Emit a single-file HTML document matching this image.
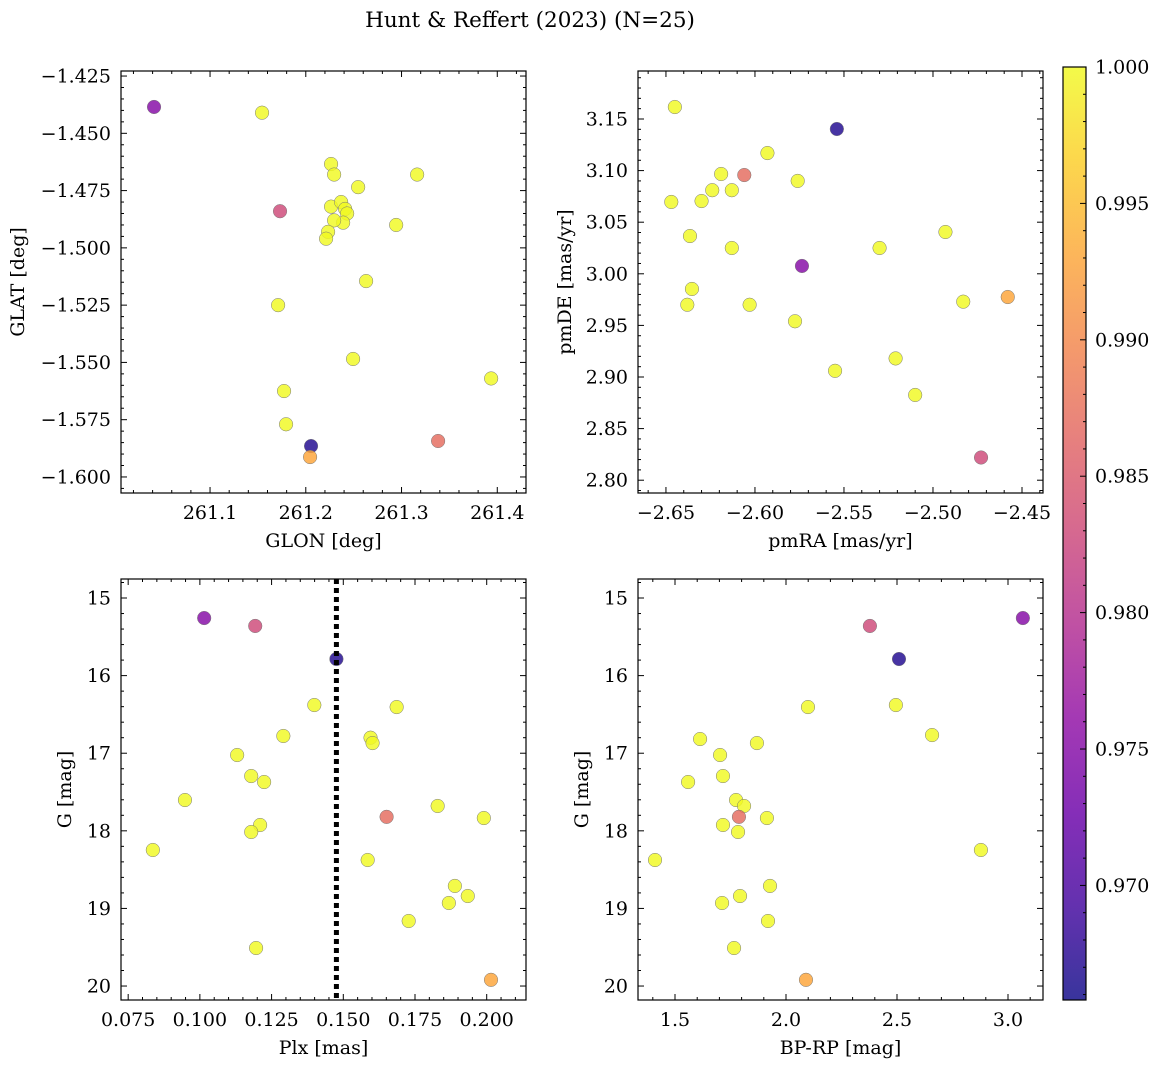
<!DOCTYPE html>
<html><head><meta charset="utf-8"><style>
body{margin:0;background:#fff;}
svg text{font-family:"DejaVu Serif","Liberation Serif",serif;fill:#000;}
</style></head><body>
<svg id="fig" width="1161" height="1067" xmlns="http://www.w3.org/2000/svg">
<defs><linearGradient id="plasma" x1="0" y1="1" x2="0" y2="0">
<stop offset="0" stop-color="#0d0887"/><stop offset="0.1" stop-color="#41049d"/><stop offset="0.2" stop-color="#6a00a8"/><stop offset="0.3" stop-color="#8f0da4"/><stop offset="0.4" stop-color="#b12a90"/><stop offset="0.5" stop-color="#cc4778"/><stop offset="0.6" stop-color="#e16462"/><stop offset="0.7" stop-color="#f2844b"/><stop offset="0.8" stop-color="#fca636"/><stop offset="0.9" stop-color="#fcce25"/><stop offset="1" stop-color="#f0f921"/>
</linearGradient></defs>
<text x="530" y="27" font-size="21.5" text-anchor="middle">Hunt &amp; Reffert (2023) (N=25)</text>
</svg>
<script>
// Data
const glon=[261.0415,261.1543,261.1731,261.2264,261.2296,261.2547,261.3163,261.2264,261.2369,261.2411,261.2432,261.2390,261.2296,261.2233,261.2212,261.2944,261.2630,261.1711,261.2494,261.3936,261.1773,261.1794,261.2055,261.2045,261.3382];
const glat=[-1.4385,-1.441,-1.484,-1.4634,-1.468,-1.4735,-1.468,-1.482,-1.480,-1.483,-1.485,-1.489,-1.488,-1.493,-1.496,-1.490,-1.5145,-1.525,-1.5485,-1.557,-1.5625,-1.577,-1.5865,-1.5913,-1.5843];
const probTL=[0.975,1,0.983,1,1,1,1,1,1,1,1,1,1,1,1,1,1,1,1,1,1,1,0.967,0.993,0.987];
const pmra=[-2.645,-2.647,-2.630,-2.624,-2.619,-2.606,-2.593,-2.613,-2.576,-2.554,-2.6365,-2.613,-2.5736,-2.6354,-2.638,-2.603,-2.5775,-2.530,-2.493,-2.483,-2.458,-2.521,-2.555,-2.510,-2.473];
const pmde=[3.1616,3.0696,3.0705,3.081,3.0967,3.0957,3.117,3.081,3.090,3.1403,3.0366,3.025,3.0076,2.9853,2.970,2.970,2.954,3.025,3.0405,2.973,2.9775,2.918,2.906,2.8826,2.822];
const probTR=[1,1,1,1,1,0.987,1,1,1,0.967,1,1,0.975,1,1,1,1,1,1,1,0.993,1,1,1,0.983];
const plx=[0.1015,0.1193,0.1476,0.1399,0.1686,0.1291,0.1595,0.1602,0.1130,0.1179,0.1224,0.0948,0.1829,0.1651,0.1990,0.1210,0.1179,0.0836,0.1585,0.1889,0.1934,0.1868,0.1728,0.1196,0.2015];
const gmag=[15.258,15.36,15.786,16.379,16.405,16.778,16.80,16.869,17.023,17.294,17.371,17.603,17.68,17.82,17.835,17.925,18.015,18.247,18.376,18.71,18.84,18.93,19.162,19.51,19.92];
const probBL=[0.975,0.983,0.967,1,1,1,1,1,1,1,1,1,1,0.987,1,1,1,1,1,1,1,1,1,1,0.993];
const bprp=[3.067,2.378,2.509,2.495,2.099,2.658,1.613,1.869,1.703,1.716,1.559,1.775,1.811,1.788,1.914,1.716,1.784,2.878,1.41,1.928,1.793,1.712,1.919,1.766,2.09];
const gmag2=[15.258,15.36,15.786,16.379,16.405,16.766,16.817,16.869,17.023,17.294,17.371,17.603,17.68,17.82,17.835,17.925,18.015,18.247,18.376,18.71,18.84,18.93,19.162,19.51,19.92];
const probBR=probBL;
const plxLine=0.1476;
const cbTicks=[0.970,0.975,0.980,0.985,0.990,0.995,1.000];
const cmin=0.9658,cmax=1.0;

const NS="http://www.w3.org/2000/svg";
const svg=document.getElementById('fig');
function mk(tag,attrs,parent){const e=document.createElementNS(NS,tag);for(const k in attrs)e.setAttribute(k,attrs[k]);(parent||svg).appendChild(e);return e;}
const stops=["#0d0887","#41049d","#6a00a8","#8f0da4","#b12a90","#cc4778","#e16462","#f2844b","#fca636","#fcce25","#f0f921"];
function hex(h){return [1,3,5].map(i=>parseInt(h.substr(i,2),16));}
function cmap(v){let t=(v-cmin)/(cmax-cmin);t=Math.max(0,Math.min(1,t))*10;const i=Math.min(9,Math.floor(t)),f=t-i;const a=hex(stops[i]),b=hex(stops[i+1]);return 'rgb('+a.map((x,k)=>Math.round(x+(b[k]-x)*f)).join(',')+')';}
function fmt(v,d){const s=Math.abs(v).toFixed(d);return (v<-1e-12?'\u2212':'')+s;}
const FS=19;
function panel(o){
  const g=mk('g',{});
  
  
  const X=v=>o.x0+(v-o.xr[0])/(o.xr[1]-o.xr[0])*(o.x1-o.x0);
  const Y=o.yinv?(v=>o.y0+(v-o.yr[0])/(o.yr[1]-o.yr[0])*(o.y1-o.y0)):(v=>o.y1-(v-o.yr[0])/(o.yr[1]-o.yr[0])*(o.y1-o.y0));
  const pts=mk('g',{},g);
  
  
  if(o.vline!==undefined){const l=mk('line',{x1:X(o.vline),x2:X(o.vline),y1:o.y0,y2:o.y1,stroke:'#000','stroke-width':5,'stroke-dasharray':'5,4'},g);
    
    }
  o.xs.forEach((xv,i)=>{const c=mk('circle',{cx:X(xv),cy:Y(o.ys[i]),r:6.8,fill:cmap(o.cs[i]),'fill-opacity':0.82,stroke:'#777','stroke-width':0.5},pts);
    
    });
  const fr=mk('rect',{x:o.x0,y:o.y0,width:o.x1-o.x0,height:o.y1-o.y0,fill:'none',stroke:'#000','stroke-width':1.2},g);
  
  
  const tk=(x1,y1,x2,y2)=>mk('line',{x1,y1,x2,y2,stroke:'#000','stroke-width':1},g);
  const xa=Math.min(...o.xr),xb=Math.max(...o.xr);
  for(let k=Math.ceil(xa/o.xmin-1e-6);k*o.xmin<=xb+1e-9;k++){const v=k*o.xmin,px=X(v);const maj=Math.abs(v/o.xmaj-Math.round(v/o.xmaj))<1e-6;const L=maj?6:3;
    tk(px,o.y1,px,o.y1-L);tk(px,o.y0,px,o.y0+L);
    if(maj){const t=mk('text',{x:px,y:o.y1+26,'font-size':FS,'text-anchor':'middle'},g);t.textContent=fmt(v,o.xd);
      
      }}
  const ya=Math.min(...o.yr),yb=Math.max(...o.yr);
  for(let k=Math.ceil(ya/o.ymin-1e-6);k*o.ymin<=yb+1e-9;k++){const v=k*o.ymin,py=Y(v);const maj=Math.abs(v/o.ymaj-Math.round(v/o.ymaj))<1e-6;const L=maj?6:3;
    tk(o.x0,py,o.x0+L,py);tk(o.x1,py,o.x1-L,py);
    if(maj){const t=mk('text',{x:o.x0-10,y:py+6.5,'font-size':FS,'text-anchor':'end'},g);t.textContent=fmt(v,o.yd);
      
      }}
  const xl=mk('text',{x:(o.x0+o.x1)/2,y:o.y1+54,'font-size':FS,'text-anchor':'middle'},g);xl.textContent=o.xlabel;
  
  
  const yc=(o.y0+o.y1)/2;
  const yl=mk('text',{x:o.ylx,y:yc,'font-size':FS,'text-anchor':'middle',transform:`rotate(-90 ${o.ylx} ${yc})`},g);yl.textContent=o.ylabel;
  
  
}
panel({name:'glon-glat-panel',x0:121,x1:526,y0:71,y1:493,xr:[261.007,261.430],yr:[-1.607,-1.4228],xs:glon,ys:glat,cs:probTL,xmaj:0.1,xmin:0.02,ymaj:0.025,ymin:0.005,xd:1,yd:3,xlabel:'GLON [deg]',ylabel:'GLAT [deg]',ylx:24});
panel({name:'pm-panel',x0:638,x1:1043,y0:71,y1:493,xr:[-2.6657,-2.4382],yr:[2.7876,3.1965],xs:pmra,ys:pmde,cs:probTR,xmaj:0.05,xmin:0.01,ymaj:0.05,ymin:0.01,xd:2,yd:2,xlabel:'pmRA [mas/yr]',ylabel:'pmDE [mas/yr]',ylx:571});
panel({name:'plx-g-panel',x0:121,x1:526,y0:579,y1:1000,xr:[0.0725,0.2137],yr:[14.755,20.18],yinv:true,xs:plx,ys:gmag,cs:probBL,xmaj:0.025,xmin:0.005,ymaj:1,ymin:0.2,xd:3,yd:0,xlabel:'Plx [mas]',ylabel:'G [mag]',ylx:71,vline:plxLine});
panel({name:'cmd-panel',x0:638,x1:1043,y0:579,y1:1000,xr:[1.3333,3.1577],yr:[14.755,20.18],yinv:true,xs:bprp,ys:gmag2,cs:probBR,xmaj:0.5,xmin:0.1,ymaj:1,ymin:0.2,xd:1,yd:0,xlabel:'BP-RP [mag]',ylabel:'G [mag]',ylx:588});
const cb=mk('g',{});


const cx0=1063,cx1=1086,cy0=67,cy1=1000;
mk('rect',{x:cx0,y:cy0,width:cx1-cx0,height:cy1-cy0,fill:'url(#plasma)','fill-opacity':0.82},cb);
mk('rect',{x:cx0,y:cy0,width:cx1-cx0,height:cy1-cy0,fill:'none',stroke:'#000','stroke-width':1.2},cb);
const CY=v=>cy1-(v-cmin)/(cmax-cmin)*(cy1-cy0);
for(let k=966;k<=1000;k++){const v=k/1000,py=CY(v);if(py>cy1)continue;const maj=k%5===0;mk('line',{x1:cx1,x2:cx1-(maj?6:3),y1:py,y2:py,stroke:'#000','stroke-width':1},cb);}
cbTicks.forEach(v=>{const t=mk('text',{x:cx1+9,y:CY(v)+6.5,'font-size':FS},cb);t.textContent=v.toFixed(3);
  
  });
</script>
</body></html>
